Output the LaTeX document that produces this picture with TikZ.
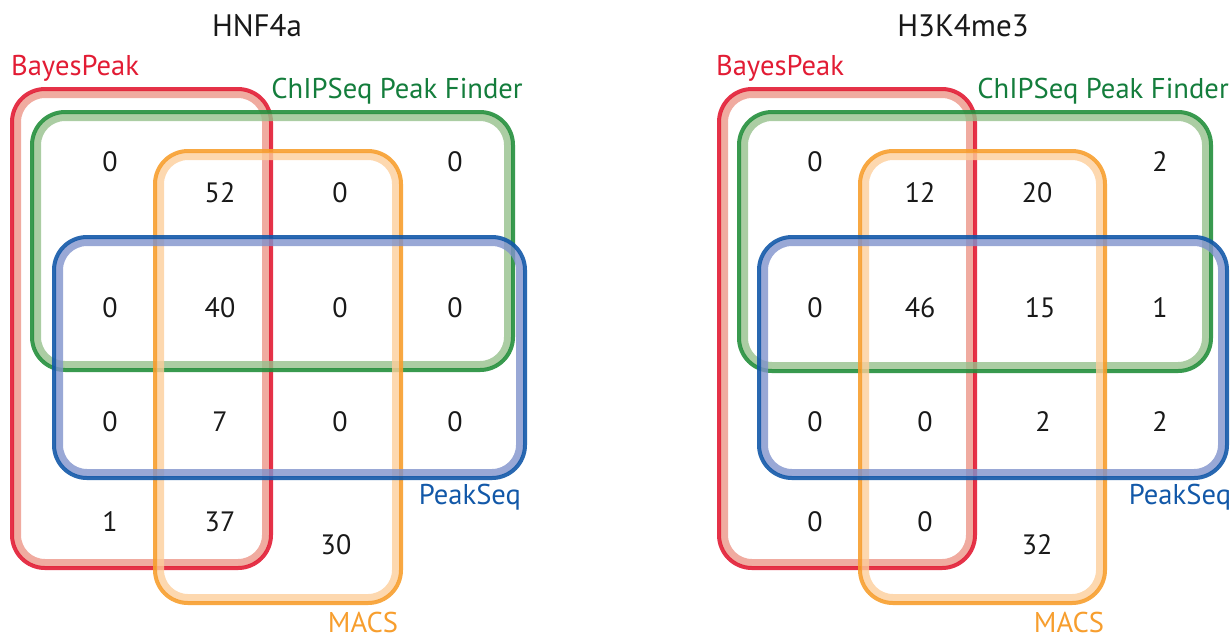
\documentclass[tikz,border=0pt]{standalone}
\usepackage{fontspec}
\setmainfont{PT Sans}
\definecolor{bayesdark}{RGB}{226,28,52}
\definecolor{bayespale}{RGB}{236,150,136}
\definecolor{chipdark}{RGB}{36,143,60}
\definecolor{chippale}{RGB}{150,192,140}
\definecolor{macsdark}{RGB}{247,158,46}
\definecolor{macspale}{RGB}{253,206,155}
\definecolor{peakdark}{RGB}{18,88,168}
\definecolor{peakpale}{RGB}{128,146,204}
\definecolor{chiptext}{RGB}{20,125,60}

\begin{document}
\begin{tikzpicture}[x=0.5pt,y=-0.5pt,
  dark/.style={line width=2pt, rounded corners=16.5pt, opacity=0.9},
  pale/.style={line width=4pt, rounded corners=14pt, opacity=0.8},
  num/.style={font=\fontsize{14}{16}\selectfont, text=black!90},
  lab/.style={font=\fontsize{14.3}{16}\selectfont},
  title/.style={font=\fontsize{15.5}{18}\selectfont, text=black!90}]

\useasboundingbox (0,0) rectangle (1230,639);

\draw [pale, draw=bayespale] (17,94) rectangle (266,563);
\draw [dark, draw=bayesdark] (12,89) rectangle (271,568);
\draw [pale, draw=chippale] (37,117) rectangle (508,365);
\draw [dark, draw=chipdark] (32,112) rectangle (513,370);
\draw [pale, draw=macspale] (160,156) rectangle (396,598);
\draw [dark, draw=macsdark] (155,151) rectangle (401,603);
\draw [pale, draw=peakpale] (59,242) rectangle (520,473);
\draw [dark, draw=peakdark] (54,237) rectangle (525,478);

\draw [pale, draw=bayespale] (724,94) rectangle (970,563);
\draw [dark, draw=bayesdark] (719,89) rectangle (975,568);
\draw [pale, draw=chippale] (744,117) rectangle (1206,366);
\draw [dark, draw=chipdark] (739,112) rectangle (1211,371);
\draw [pale, draw=macspale] (865,156) rectangle (1100,598);
\draw [dark, draw=macsdark] (860,151) rectangle (1105,603);
\draw [pale, draw=peakpale] (764,242) rectangle (1222,473);
\draw [dark, draw=peakdark] (759,237) rectangle (1227,478);

\node [title] (hnf) at (257,26) {HNF4a};
\node [lab, text=bayesdark] (hnfbayes) at (75,68) {BayesPeak};
\node [lab, text=chiptext] (hnfchip) at (397,91) {ChIPSeq Peak Finder};
\node [lab, text=peakdark] (hnfpeak) at (470,497) {PeakSeq};
\node [lab, text=macsdark] (hnfmacs) at (363,622) {MACS};

\node [num] (h11) at (110,162) {0};
\node [num] (h12) at (220,193) {52};
\node [num] (h13) at (340,193) {0};
\node [num] (h14) at (455,162) {0};
\node [num] (h21) at (110,308) {0};
\node [num] (h22) at (220,308) {40};
\node [num] (h23) at (340,308) {0};
\node [num] (h24) at (455,308) {0};
\node [num] (h31) at (110,422) {0};
\node [num] (h32) at (220,422) {7};
\node [num] (h33) at (340,422) {0};
\node [num] (h34) at (455,422) {0};
\node [num] (h41) at (110,522) {1};
\node [num] (h42) at (220,522) {37};
\node [num] (h43) at (336,545) {30};

\node [title] (hk) at (963,26) {H3K4me3};
\node [lab, text=bayesdark] (hkbayes) at (780,68) {BayesPeak};
\node [lab, text=chiptext] (hkchip) at (1103,91) {ChIPSeq Peak Finder};
\node [lab, text=peakdark] (hkpeak) at (1180,497) {PeakSeq};
\node [lab, text=macsdark] (hkmacs) at (1069,622) {MACS};

\node [num] (k11) at (815,162) {0};
\node [num] (k12) at (920,193) {12};
\node [num] (k13) at (1037,193) {20};
\node [num] (k14) at (1160,162) {2};
\node [num] (k21) at (815,308) {0};
\node [num] (k22) at (920,308) {46};
\node [num] (k23) at (1040,308) {15};
\node [num] (k24) at (1160,308) {1};
\node [num] (k31) at (815,422) {0};
\node [num] (k32) at (925,422) {0};
\node [num] (k33) at (1043,422) {2};
\node [num] (k34) at (1160,422) {2};
\node [num] (k41) at (815,522) {0};
\node [num] (k42) at (925,522) {0};
\node [num] (k43) at (1037,545) {32};

\end{tikzpicture}
\end{document}
